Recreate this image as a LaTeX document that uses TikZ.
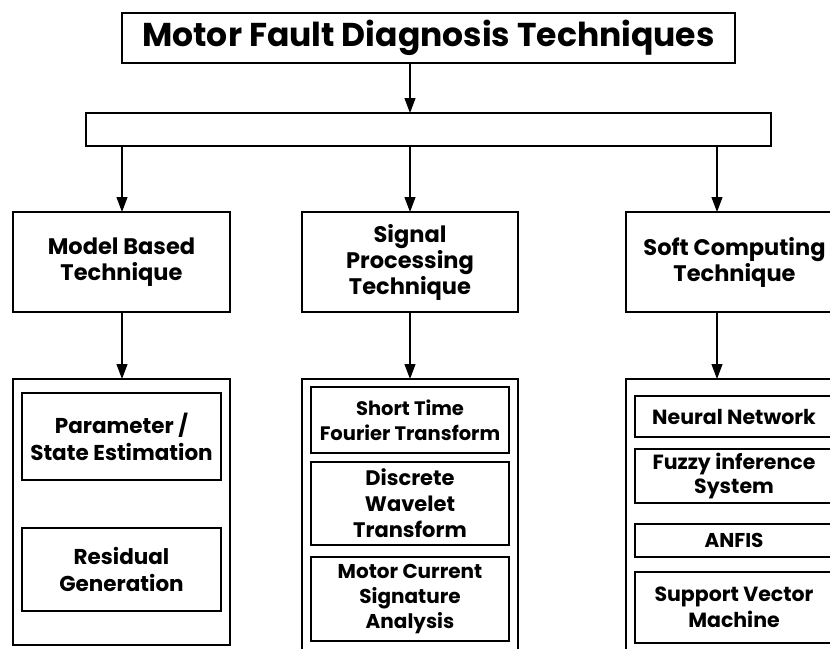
\documentclass[tikz,border=0pt]{standalone}
\usepackage{fontspec}
\setmainfont{Poppins}
\usetikzlibrary{arrows.meta}
\newcommand{\bfs}[2]{\bfseries\fontsize{#1}{#2}\selectfont}
\begin{document}
\begin{tikzpicture}[x=1pt,y=-1pt,
  box/.style={draw, line width=1.3pt, inner sep=0pt, outer sep=0pt, align=center,
    font=\bfs{22.5}{26}},
  frame/.style={draw, line width=1.3pt, inner sep=0pt, outer sep=0pt},
  arr/.style={line width=1.1pt, -{Triangle[length=15pt,width=11pt]}}]
\useasboundingbox (0,0) rectangle (830,648);

% heading and distribution bar
\node[box, minimum width=613, minimum height=50, font=\bfs{33}{38}]
  (title) at (428.5,38) {Motor Fault Diagnosis Techniques};
\node[frame, minimum width=685, minimum height=33] (bar) at (428.5,129.5) {};

% column positions
\coordinate (ca) at (122,0);
\coordinate (cb) at (410,0);
\coordinate (cc) at (717,0);

% technique families
\node[box, minimum width=217, minimum height=100] (model) at (121.5,262) {Model Based\\Technique};
\node[box, minimum width=216, minimum height=100] (signal) at (410,262) {Signal\\Processing\\Technique};
\node[box, minimum width=217, minimum height=100] (soft) at (734.5,262) {Soft Computing\\Technique};

% containers
\node[frame, minimum width=217, minimum height=266] (cmodel) at (121.5,512) {};
\node[frame, minimum width=216, minimum height=290] (csignal) at (410,524) {};
\node[frame, minimum width=217, minimum height=290] (csoft) at (734.5,524) {};

% model based methods
\node[box, minimum width=199, minimum height=87, font=\bfs{21.5}{27}] (pse) at (121.5,436.5) {Parameter /\\State Estimation};
\node[box, minimum width=199, minimum height=83, font=\bfs{21.5}{27}] (res) at (121.5,569.5) {Residual\\Generation};

% signal processing methods
\node[box, minimum width=198, minimum height=66, font=\bfs{19.5}{25}] (stft) at (410,420) {Short Time\\Fourier Transform};
\node[box, minimum width=198, minimum height=83, font=\bfs{21}{26}] (dwt) at (410,503.5) {Discrete\\Wavelet\\Transform};
\node[box, minimum width=198, minimum height=84, font=\bfs{20}{25}] (mcsa) at (410,599) {Motor Current\\Signature\\Analysis};

% soft computing methods
\node[box, minimum width=198, minimum height=41, font=\bfs{20.5}{24}] (nn) at (734,416.5) {Neural Network};
\node[box, minimum width=198, minimum height=54, font=\bfs{20.5}{24}] (fis) at (734,476) {Fuzzy inference\\System};
\node[box, minimum width=198, minimum height=33, font=\bfs{20}{22}] (anfis) at (734,540.5) {ANFIS};
\node[box, minimum width=198, minimum height=71, font=\bfs{20.5}{26}] (svm) at (734,607.5) {Support Vector\\Machine};

% connectors
\draw[arr] (title.south -| cb) -- (bar.north -| cb);
\draw[arr] (bar.south -| ca) -- (model.north -| ca);
\draw[arr] (bar.south -| cb) -- (signal.north -| cb);
\draw[arr] (bar.south -| cc) -- (soft.north -| cc);
\draw[arr] (model.south -| ca) -- (cmodel.north -| ca);
\draw[arr] (signal.south -| cb) -- (csignal.north -| cb);
\draw[arr] (soft.south -| cc) -- (csoft.north -| cc);
\end{tikzpicture}
\end{document}
